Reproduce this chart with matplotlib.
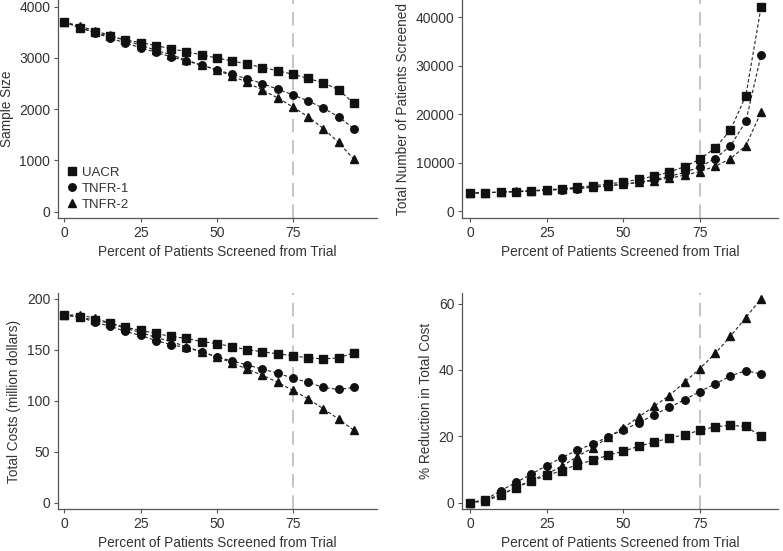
import matplotlib.pyplot as plt

plt.rcParams['font.family'] = ['Liberation Sans', 'DejaVu Sans']

pct = [0, 5, 10, 15, 20, 25, 30, 35, 40, 45, 50, 55, 60, 65, 70, 75, 80, 85, 90, 95]
series_names = ['UACR', 'TNFR-1', 'TNFR-2']
markers = ['s', 'o', '^']

sample_uacr = [3700, 3590, 3500, 3420, 3350, 3300, 3240, 3180, 3120, 3060,
               3000, 2940, 2880, 2810, 2750, 2680, 2600, 2510, 2380, 2110]
sample_tnfr1 = [3700, 3590, 3490, 3390, 3290, 3200, 3110, 3020, 2940, 2860,
                2770, 2680, 2590, 2500, 2390, 2280, 2160, 2020, 1850, 1620]
sample_tnfr2 = [3700, 3620, 3530, 3440, 3340, 3250, 3150, 3060, 2960, 2860,
                2760, 2650, 2520, 2370, 2220, 2040, 1850, 1620, 1350, 1020]

screened_uacr = [3700, 3780, 3890, 4020, 4190, 4400, 4630, 4890, 5200, 5560,
                 6000, 6530, 7200, 8030, 9170, 10720, 13000, 16730, 23800, 42200]
screened_tnfr1 = [3700, 3780, 3880, 3990, 4110, 4270, 4440, 4650, 4900, 5200,
                  5540, 5960, 6480, 7140, 7970, 9120, 10800, 13470, 18500, 32300]
screened_tnfr2 = [3700, 3810, 3920, 4050, 4180, 4330, 4500, 4710, 4930, 5200,
                  5520, 5890, 6300, 6770, 7400, 8160, 9250, 10800, 13500, 20400]

cost_uacr = [184, 182, 179, 176, 172, 169, 166, 163, 161, 158,
             156, 153, 150, 148, 146, 144, 142, 141, 142, 147]
cost_tnfr1 = [184, 182, 177, 173, 168, 164, 159, 155, 152, 148,
              143, 139, 135, 131, 127, 122, 118, 113, 111, 113]
cost_tnfr2 = [184, 184, 181, 176, 171, 167, 162, 158, 153, 148,
              143, 137, 131, 125, 118, 110, 102, 92, 82, 71]

red_uacr = [0, 0.8, 2.5, 4.5, 6.5, 8.2, 9.7, 11.5, 12.8, 14.3,
            15.5, 17.0, 18.2, 19.5, 20.5, 21.8, 22.9, 23.3, 23.0, 20.0]
red_tnfr1 = [0, 0.9, 3.6, 6.1, 8.6, 11.2, 13.6, 15.8, 17.7, 19.8,
             22.0, 24.0, 26.5, 28.7, 31.0, 33.5, 35.8, 38.2, 39.8, 38.8]
red_tnfr2 = [0, 0.5, 2.2, 4.6, 6.8, 8.6, 11.0, 13.9, 16.5, 19.7,
             22.5, 25.8, 29.0, 32.3, 36.3, 40.4, 45.0, 50.2, 55.8, 61.5]

W, H = 783, 551
fig = plt.figure(figsize=(W / 100, H / 100), dpi=100)


def px_axes(left, top, right, bottom):
    return fig.add_axes([left / W, 1 - bottom / H, (right - left) / W, (bottom - top) / H])


panels = [
    (px_axes(58, 0, 377, 218), [sample_uacr, sample_tnfr1, sample_tnfr2],
     'Sample Size', (-125, 4130), [0, 1000, 2000, 3000, 4000], (-2.1, 102.6)),
    (px_axes(462, 0, 778, 218), [screened_uacr, screened_tnfr1, screened_tnfr2],
     'Total Number of Patients Screened', (-1440, 43570), [0, 10000, 20000, 30000, 40000], (-2.6, 100.5)),
    (px_axes(58, 293, 377, 509), [cost_uacr, cost_tnfr1, cost_tnfr2],
     'Total Costs (million dollars)', (-6.2, 205.6), [0, 50, 100, 150, 200], (-2.1, 102.6)),
    (px_axes(462, 293, 778, 509), [red_uacr, red_tnfr1, red_tnfr2],
     '% Reduction in Total Cost', (-1.9, 63.2), [0, 20, 40, 60], (-2.6, 100.5)),
]

spine_col = '#555555'
text_col = '#333333'

for i, (ax, data, ylabel, ylim, yticks, xlim) in enumerate(panels):
    ax.axvline(75, color='#c4c4c4', lw=1.4, dashes=(7, 4), zorder=1)
    for vals, mk, name in zip(data, markers, series_names):
        ax.plot(pct, vals, color='#222222', lw=0.8, dashes=(3, 2), zorder=2)
        ms = 6.2 if mk == '^' else 5.4
        ax.plot(pct, vals, linestyle='none', marker=mk, ms=ms, color='#111111',
                label=name, zorder=3)
    ax.set_xlim(*xlim)
    ax.set_ylim(*ylim)
    ax.set_xticks([0, 25, 50, 75])
    ax.set_yticks(yticks)
    for s in ['top', 'right']:
        ax.spines[s].set_visible(False)
    for s in ['left', 'bottom']:
        ax.spines[s].set_color(spine_col)
        ax.spines[s].set_linewidth(0.9)
    ax.tick_params(colors=spine_col, labelcolor=text_col, labelsize=10,
                   length=3, width=0.8, pad=2.5)
    ax.set_xlabel('Percent of Patients Screened from Trial', fontsize=9.8,
                  color=text_col, labelpad=4)
    ax.set_ylabel(ylabel, fontsize=9.8, color=text_col, labelpad=4)
    if i == 0:
        ax.legend(loc='lower left', bbox_to_anchor=(0.0, -0.01), frameon=False,
                  fontsize=9.5, handlelength=0.7, handletextpad=0.4,
                  labelspacing=0.3, borderaxespad=0.3, labelcolor=text_col)

fig.savefig('out.png', dpi=100)
